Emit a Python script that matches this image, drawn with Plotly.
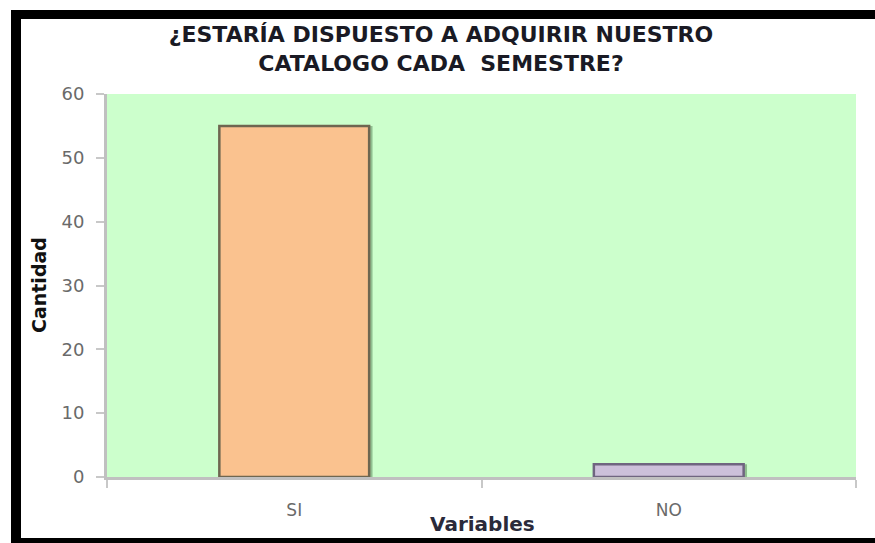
import plotly.graph_objects as go

categories = ["SI", "NO"]
values = [55, 2]
bar_colors = ["#fac28f", "#ccc0da"]
line_colors = ["#6e6650", "#6f6580"]
y_ticks = [0, 10, 20, 30, 40, 50, 60]

# body margin is removed below, so the figure is drawn at (0, 0)
OFF = 0
W, H = 875 - OFF, 543 - OFF
L, R, T, B = 107 - OFF, 856 - OFF, 94 - OFF, 477 - OFF


def px_x(p):
    return (p - OFF - L) / (R - L)


def px_y(p):
    return (B - (p - OFF)) / (B - T)


fig = go.Figure()
# soft drop shadow behind the bars
fig.add_trace(go.Bar(
    x=categories, y=values, width=0.4, offset=-0.2 + 0.009,
    marker=dict(color="rgba(70,110,70,0.45)", line=dict(width=0)),
    hoverinfo="skip",
))
fig.add_trace(go.Bar(
    x=categories, y=values, width=0.4, offset=-0.2,
    marker=dict(color=bar_colors, line=dict(color=line_colors, width=2.5)),
))

frame = "#000000"
shapes = [
    dict(type="rect", xref="paper", yref="paper", x0=px_x(11), x1=px_x(880),
         y0=px_y(19), y1=px_y(10), fillcolor=frame, line=dict(width=0), layer="above"),
    dict(type="rect", xref="paper", yref="paper", x0=px_x(11), x1=px_x(21),
         y0=px_y(548), y1=px_y(10), fillcolor=frame, line=dict(width=0), layer="above"),
    dict(type="rect", xref="paper", yref="paper", x0=px_x(11), x1=px_x(880),
         y0=px_y(548), y1=px_y(538), fillcolor=frame, line=dict(width=0), layer="above"),
]

annotations = [
    dict(text="<b>Cantidad</b>", xref="paper", yref="paper",
         x=px_x(39), y=px_y(285), xanchor="center", yanchor="middle",
         textangle=-90, showarrow=False,
         font=dict(family="DejaVu Sans", size=19, color="#111111")),
    dict(text="<b>Variables</b>", xref="paper", yref="paper",
         x=px_x(482), y=px_y(524), xanchor="center", yanchor="middle",
         showarrow=False,
         font=dict(family="DejaVu Sans", size=20, color="#2a2a3a")),
]

fig.update_layout(
    width=W, height=H,
    margin=dict(l=L, r=W - R, t=T, b=H - B, autoexpand=False),
    paper_bgcolor="white",
    plot_bgcolor="#ccffcc",
    showlegend=False,
    barmode="overlay",
    shapes=shapes,
    annotations=annotations,
    title=dict(
        text="<b>¿ESTARÍA DISPUESTO A ADQUIRIR NUESTRO<br>CATALOGO CADA  SEMESTRE?</b>",
        x=(441 - OFF) / W, xanchor="center", xref="container",
        y=1 - (42 - OFF) / H, yanchor="middle", yref="container",
        font=dict(family="DejaVu Sans", size=22, color="#1a1a24"),
    ),
    font=dict(family="DejaVu Sans"),
)

fig.update_yaxes(
    range=[0, 60], tickvals=y_ticks, showgrid=False, zeroline=False,
    showline=True, linecolor="#c0c0c0", linewidth=3,
    ticks="outside", ticklen=8, tickcolor="#c8c8c8", tickwidth=2,
    tickfont=dict(size=18, color="#6a6a6a"),
    ticklabelstandoff=8,
)
fig.update_xaxes(
    showgrid=False, zeroline=False,
    showline=True, linecolor="#c0c0c0", linewidth=3,
    ticks="outside", ticklen=8, tickcolor="#c8c8c8", tickwidth=2,
    tickson="boundaries",
    tickfont=dict(size=17, color="#6a6a6a"),
    ticklabelstandoff=16,
)

fig.write_html(
    "out.html",
    config={"displayModeBar": False},
    post_script=(
        "document.body.style.margin='0';"
        "document.documentElement.style.overflow='hidden';"
        "document.body.style.overflow='hidden';"
    ),
)
